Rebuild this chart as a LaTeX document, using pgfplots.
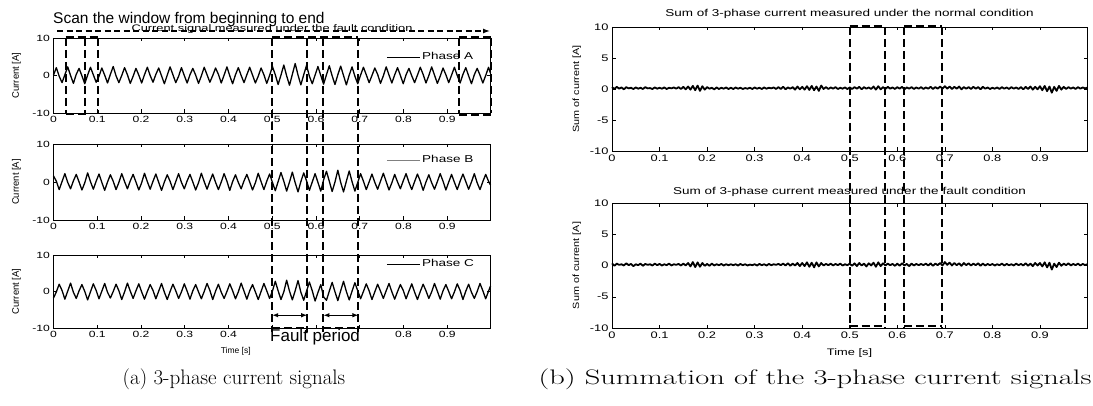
\documentclass[border=0pt]{standalone}
\usepackage{fontspec}
\newfontfamily\cf[FakeStretch=1.35]{Liberation Sans}
\newfontfamily\pf{Liberation Sans}
\usepackage{pgfplots}
\usepackage{pgfplotstable}
\pgfplotsset{compat=1.18}
\usetikzlibrary{arrows.meta}

% three phase currents, time in ms
\pgfplotstableread{
t A B C
0 0.1 1.6 -1.8
6.5 2.1 0.2 -0.1
13 -0.2 -2.0 2.0
19.5 -1.9 0.1 0.3
26 0.2 2.2 -2.1
32.5 2.3 -0.1 0.1
39 0.0 -1.8 2.3
45.5 -2.1 0.3 -0.2
52 0.3 2.0 -1.9
58.5 1.9 0.0 0.2
65 -0.1 -2.1 1.9
71.5 -2.2 -0.2 0.0
78 0.1 2.4 -2.3
84.5 2.2 0.1 -0.1
91 0.2 -1.9 2.1
97.5 -1.8 0.2 0.3
104 -0.2 2.1 -2.0
110.5 2.0 -0.1 0.1
117 0.1 -2.2 2.2
123.5 -2.0 0.0 -0.2
130 0.3 1.9 -1.8
136.5 2.4 0.2 0.0
143 -0.1 -2.0 2.0
149.5 -1.9 -0.1 0.2
156 0.0 2.2 -2.2
162.5 2.1 0.1 -0.1
169 0.2 -1.8 2.3
175.5 -2.1 0.3 0.1
182 -0.2 2.0 -1.9
188.5 1.9 0.0 0.2
195 0.1 -2.1 2.1
201.5 -2.0 -0.2 -0.1
208 0.2 2.3 -2.1
214.5 2.2 0.1 0.0
221 0.0 -1.9 1.9
227.5 -1.8 0.2 0.3
234 0.3 2.1 -2.0
240.5 2.0 -0.1 0.1
247 -0.1 -2.2 2.2
253.5 -2.2 0.0 -0.2
260 0.1 1.9 -2.2
266.5 2.3 0.2 0.0
273 0.2 -2.0 2.0
279.5 -1.9 0.1 0.2
286 -0.2 2.2 -1.9
292.5 2.1 -0.1 -0.1
299 0.0 -1.8 2.1
305.5 -2.0 0.3 0.1
312 0.2 2.0 -2.1
318.5 1.9 0.0 0.2
325 0.1 -2.1 1.9
331.5 -2.1 -0.2 -0.1
338 -0.1 2.3 -2.0
344.5 2.2 0.1 0.0
351 0.2 -1.9 2.2
357.5 -1.8 0.2 0.3
364 0.0 2.1 -2.2
370.5 2.0 -0.1 0.1
377 0.3 -2.0 2.0
383.5 -2.0 0.0 -0.2
390 0.1 2.2 -1.9
396.5 2.3 0.2 0.0
403 -0.1 -2.2 2.1
409.5 -2.2 0.1 0.2
416 0.2 1.9 -2.0
422.5 2.1 -0.1 -0.1
429 0.0 -1.8 2.3
435.5 -1.9 0.3 0.1
442 0.2 2.0 -2.1
448.5 2.2 0.0 0.2
455 0.1 -2.1 1.9
461.5 -2.0 -0.2 -0.1
468 -0.2 2.3 -2.2
474.5 2.0 0.1 0.0
481 0.2 -2.0 2.2
487.5 -2.1 0.2 0.2
494 0.0 2.1 -1.9
500.5 2.4 -0.1 0.1
507 0.2 -2.3 2.8
513.5 -2.4 0.1 0.2
520 0.1 2.5 -2.2
526.5 2.8 0.2 -0.1
533 -0.1 -2.4 3.1
539.5 -2.6 0.0 0.1
546 0.3 2.6 -2.3
552.5 3.2 -0.2 0.2
559 0.1 -2.6 3.0
565.5 -2.5 0.1 -0.2
572 0.2 2.4 -2.4
578.5 2.7 0.3 0.1
585 -0.2 -2.2 2.6
591.5 -2.2 0.0 0.2
598 0.1 2.2 -2.6
604.5 2.4 -0.1 -0.3
611 0.0 -2.4 1.9
617.5 -2.3 0.6 -1.5
624 0.2 2.8 -2.4
630.5 2.6 0.2 0.1
637 -0.1 -2.5 2.5
643.5 -2.4 0.0 -0.1
650 0.2 3.1 -2.5
656.5 2.5 -0.1 0.2
663 0.0 -2.6 2.8
669.5 -2.5 0.2 0.0
676 0.1 2.9 -2.3
682.5 2.3 0.1 0.1
689 -0.2 -2.4 2.4
695.5 -2.2 -0.1 0.2
702 0.1 2.2 -2.0
708.5 2.2 0.2 0.0
715 0.2 -2.0 2.1
721.5 -1.9 0.0 0.2
728 0.0 2.1 -2.2
734.5 2.0 -0.1 -0.1
741 0.3 -1.9 2.0
747.5 -2.1 0.2 0.1
754 -0.1 2.3 -1.9
760.5 2.3 0.1 0.2
767 0.1 -2.1 2.2
773.5 -2.0 -0.2 -0.1
780 0.2 2.0 -2.1
786.5 2.1 0.0 0.0
793 0.0 -1.8 1.9
799.5 -2.2 0.3 0.3
806 0.2 2.2 -2.0
812.5 1.9 -0.1 0.1
819 -0.1 -2.0 2.1
825.5 -1.9 0.1 -0.2
832 0.1 2.1 -2.2
838.5 2.2 0.2 0.0
845 0.3 -2.2 2.0
851.5 -2.0 0.0 0.2
858 0.0 1.9 -1.9
864.5 2.3 -0.2 -0.1
871 0.1 -1.9 2.2
877.5 -2.1 0.1 0.1
884 -0.2 2.2 -2.1
890.5 2.0 0.2 0.2
897 0.2 -2.1 1.9
903.5 -1.9 0.0 0.0
910 0.1 2.0 -2.0
916.5 2.2 -0.1 -0.1
923 0.0 -2.0 2.1
929.5 -2.0 0.2 0.3
936 0.3 2.1 -2.2
942.5 2.1 0.1 0.1
949 -0.1 -1.9 2.0
955.5 -2.2 0.0 -0.2
962 0.2 2.2 -1.9
968.5 1.9 -0.2 0.0
975 0.1 -2.0 2.2
981.5 -2.0 0.1 0.2
988 0.0 2.0 -2.0
994.5 2.2 0.2 0.1
999 0.6 -0.8 1.5
}\phasedata

% sum of the three currents, N = normal, F = fault
\pgfplotstableread{
t N F
0 0.3 0.35
5 0.0 -0.05
10 0.35 0.3
15 0.05 0.1
20 0.25 0.2
25 -0.05 0.0
30 0.3 0.35
35 0.1 0.05
40 0.2 0.25
45 0.0 -0.1
50 0.25 0.2
55 0.05 0.05
60 0.2 0.3
65 0.0 -0.05
70 0.3 0.25
75 0.1 0.1
80 0.15 0.2
85 0.0 0.0
90 0.25 0.3
95 0.05 0.05
100 0.2 0.25
105 0.05 0.0
110 0.25 0.2
115 0.0 0.05
120 0.2 0.3
125 0.1 0.0
130 0.25 0.2
135 0.05 0.1
140 0.3 0.25
145 0.0 0.0
150 0.35 0.3
155 -0.05 0.0
160 0.4 0.4
165 -0.1 -0.15
170 0.5 0.55
175 -0.2 -0.25
180 0.55 0.5
185 -0.3 -0.2
190 0.45 0.4
195 -0.1 -0.05
200 0.3 0.25
205 0.05 -0.05
210 0.2 0.3
215 -0.05 0.0
220 0.25 0.2
225 0.0 0.05
230 0.2 0.25
235 0.05 0.0
240 0.25 0.2
245 0.0 0.05
250 0.2 0.2
255 0.0 0.05
260 0.25 0.2
265 0.05 0.0
270 0.2 0.25
275 0.0 0.05
280 0.15 0.2
285 0.05 0.0
290 0.2 0.15
295 0.0 0.05
300 0.25 0.2
305 0.05 0.0
310 0.2 0.25
315 0.0 0.05
320 0.25 0.2
325 0.05 0.0
330 0.2 0.25
335 0.1 0.05
340 0.25 0.2
345 0.0 0.1
350 0.3 0.25
355 0.0 0.05
360 0.35 0.3
365 -0.05 0.0
370 0.25 0.35
375 0.05 -0.05
380 0.3 0.3
385 -0.1 0.0
390 0.4 0.4
395 -0.05 -0.1
400 0.35 0.4
405 -0.1 -0.1
410 0.45 0.5
415 -0.15 -0.2
420 0.5 0.45
425 -0.2 -0.3
430 0.4 0.5
435 -0.3 -0.15
440 0.55 0.4
445 0.0 0.0
450 0.3 0.25
455 0.0 0.05
460 0.25 0.3
465 0.05 0.0
470 0.3 0.25
475 0.0 0.05
480 0.2 0.3
485 0.05 0.0
490 0.25 0.2
495 0.0 0.05
500 0.25 0.3
505 0.0 -0.05
510 0.3 0.35
515 0.05 -0.1
520 0.35 0.4
525 -0.05 0.0
530 0.3 0.3
535 0.05 -0.15
540 0.25 0.35
545 0.0 0.0
550 0.4 0.45
555 -0.1 -0.2
560 0.45 0.5
565 -0.05 -0.1
570 0.3 0.35
575 0.0 0.0
580 0.35 0.3
585 0.05 0.05
590 0.25 0.25
595 0.0 -0.05
600 0.3 0.3
605 0.05 -0.05
610 0.35 0.35
615 -0.05 0.0
620 0.25 0.25
625 0.05 -0.1
630 0.3 0.3
635 0.0 0.0
640 0.25 0.25
645 0.05 0.05
650 0.3 0.25
655 0.0 0.05
660 0.25 0.3
665 0.05 0.0
670 0.35 0.35
675 0.0 -0.05
680 0.3 0.3
685 0.05 0.05
690 0.4 0.4
695 0.05 0.0
700 0.45 0.55
705 0.05 0.1
710 0.4 0.45
715 0.0 0.0
720 0.35 0.4
725 0.05 0.05
730 0.4 0.35
735 -0.05 -0.05
740 0.3 0.4
745 0.05 0.05
750 0.3 0.35
755 0.0 0.0
760 0.35 0.3
765 0.05 0.05
770 0.3 0.35
775 -0.05 -0.05
780 0.35 0.3
785 0.05 0.0
790 0.25 0.25
795 0.0 0.05
800 0.2 0.25
805 0.05 0.0
810 0.25 0.2
815 0.0 0.05
820 0.3 0.3
825 0.05 0.0
830 0.25 0.25
835 0.0 0.05
840 0.3 0.2
845 0.05 0.0
850 0.25 0.3
855 0.0 0.05
860 0.3 0.25
865 -0.05 0.0
870 0.35 0.35
875 0.0 -0.05
880 0.4 0.3
885 -0.1 -0.1
890 0.35 0.4
895 -0.05 0.0
900 0.45 0.4
905 -0.2 -0.15
910 0.5 0.5
915 -0.35 -0.3
920 0.4 0.45
925 -0.6 -0.65
930 0.35 0.3
935 -0.3 -0.25
940 0.5 0.45
945 -0.1 -0.05
950 0.35 0.3
955 0.0 0.05
960 0.3 0.35
965 0.05 0.0
970 0.25 0.25
975 0.0 0.05
980 0.3 0.3
985 0.05 0.0
990 0.25 0.25
995 0.1 0.05
999 0.2 0.2
}\sumdata

\tikzset{
  sig/.style={black, line width=1.3pt, line join=round},
  nsig/.style={black, line width=1.8pt, line join=round},
  fdash/.style={black, line width=2pt, dash pattern=on 8pt off 4pt},
}

\pgfplotsset{
  base/.style={
    scale only axis, clip=false,
    xmin=0, xmax=999,
    xtick={0,100,200,300,400,500,600,700,800,900},
    xticklabels={0,0.1,0.2,0.3,0.4,0.5,0.6,0.7,0.8,0.9},
    ymin=-10, ymax=10,
    axis line style={line width=0.8pt},
    every tick/.style={black, line width=0.5pt},
    major tick length=3.5pt,
    tick align=inside,
  },
  lft/.style={
    base, width=437pt,
    ytick={-10,0,10}, yticklabels={-10,0,10},
    tick label style={font=\cf\fontsize{9}{10}\selectfont},
    ylabel={Current [A]},
    ylabel style={font=\pf\fontsize{9.5}{10}\selectfont, at={(axis description cs:-0.085,0.5)}, anchor=center},
    legend style={draw=none, fill=none, anchor=west, font=\cf\fontsize{10}{11}\selectfont},
    legend image code/.code={\draw[black, line width=0.5pt] (0pt,0pt) -- (33pt,0pt);},
  },
  rgt/.style={
    base, width=475pt,
    ytick={-10,-5,0,5,10}, yticklabels={-10,-5,0,5,10},
    tick label style={font=\cf\fontsize{9.5}{10}\selectfont},
    ylabel={\scalebox{1.2}[1]{Sum of current [A]}},
    ylabel style={font=\pf\fontsize{9}{10}\selectfont, at={(axis description cs:-0.074,0.5)}, anchor=center},
    title style={font=\cf\fontsize{10}{11}\selectfont, at={(axis description cs:0.5,1)}, anchor=base},
  },
}

\begin{document}
\begin{tikzpicture}
\useasboundingbox (0,0) rectangle (1093pt,405pt);

% ---- (a) three phase currents ----
\begin{axis}[lft, at={(53.5pt,292pt)}, anchor=south west, height=75pt,
  title={Current signal measured under the fault condition},
  title style={font=\cf\fontsize{9.5}{10}\selectfont, at={(axis description cs:0.5,1)}, anchor=base, yshift=0.5pt},
  legend style={at={(axis description cs:0.755,0.747)}}]
\addplot[sig] table[x=t,y=A] {\phasedata};
\addlegendentry{Phase A}
\coordinate (fa) at (axis cs:500,10);
\coordinate (fb) at (axis cs:580,10);
\coordinate (fc) at (axis cs:617,10);
\coordinate (fd) at (axis cs:697,10);
\draw[fdash] (axis cs:500,10.3) -- (axis cs:697,10.3);
% scanning windows
\draw[fdash] (axis cs:28,10) -- (axis cs:28,-10);
\draw[fdash] (axis cs:73,10) -- (axis cs:73,-10);
\draw[fdash] (axis cs:101,10) -- (axis cs:101,-10);
\draw[fdash] (axis cs:28,10.3) -- (axis cs:101,10.3);
\draw[fdash] (axis cs:28,-10.4) -- (axis cs:80,-10.4);
\draw[fdash] (axis cs:928,10) -- (axis cs:928,-10);
\draw[fdash] (axis cs:999,10) -- (axis cs:999,-10);
\draw[fdash] (axis cs:928,10.3) -- (axis cs:999,10.3);
\draw[fdash] (axis cs:928,-10.6) -- (axis cs:999,-10.6);
\end{axis}

\begin{axis}[lft, at={(53.5pt,185pt)}, anchor=south west, height=76pt,
  legend style={at={(axis description cs:0.755,0.79)}},
  legend image code/.code={\draw[gray, line width=0.6pt] (0pt,0pt) -- (33pt,0pt);}]
\addplot[sig] table[x=t,y=B] {\phasedata};
\addlegendentry{Phase B}
\end{axis}

\begin{axis}[lft, at={(53.5pt,77pt)}, anchor=south west, height=73pt,
  xticklabels={0,0.1,0.2,0.3,0.4,,,,0.8,0.9},
  xlabel={Time [s]},
  xlabel style={font=\pf\fontsize{8.5}{9}\selectfont, at={(axis description cs:0.417,0)}, anchor=base, yshift=-25pt},
  legend style={at={(axis description cs:0.755,0.877)}}]
\addplot[sig] table[x=t,y=C] {\phasedata};
\addlegendentry{Phase C}
\coordinate (lbot) at (axis cs:0,-11);
\draw[fdash] (axis cs:500,-10) -- (axis cs:580,-10);
\draw[fdash] (axis cs:617,-10) -- (axis cs:697,-10);
\draw[line width=1pt, {Latex[length=6pt,width=4.5pt]}-{Latex[length=6pt,width=4.5pt]}] (axis cs:500,-6.5) -- (axis cs:580,-6.5);
\draw[line width=1pt, {Latex[length=6pt,width=4.5pt]}-{Latex[length=6pt,width=4.5pt]}] (axis cs:617,-6.5) -- (axis cs:697,-6.5);
\node[font=\pf\fontsize{17}{20}\selectfont, anchor=base, inner sep=0pt, yshift=-13pt] at (axis cs:598,-10) {Fault period};
\end{axis}

\draw[fdash] (fa) -- (fa |- lbot);
\draw[fdash] (fb) -- (fb |- lbot);
\draw[fdash] (fc) -- (fc |- lbot);
\draw[fdash] (fd) -- (fd |- lbot);

\draw[line width=1.3pt, dash pattern=on 6pt off 3.5pt, -{Latex[length=7pt,width=5pt]}] (57pt,374pt) -- (490pt,374pt);
\node[font=\pf\fontsize{15.5}{18}\selectfont, anchor=base west, inner sep=0pt] at (53pt,381.5pt) {Scan the window from beginning to end};

% ---- (b) sum of the three currents ----
\begin{axis}[rgt, at={(612pt,254pt)}, anchor=south west, height=124pt,
  title={Sum of 3-phase current measured under the normal condition},
  title style={yshift=4.5pt}]
\addplot[nsig] table[x=t,y=N] {\sumdata};
\coordinate (ra) at (axis cs:500,10);
\coordinate (rb) at (axis cs:575,10);
\coordinate (rc) at (axis cs:615,10);
\coordinate (rd) at (axis cs:695,10);
\draw[fdash] (axis cs:500,10.1) -- (axis cs:575,10.1);
\draw[fdash] (axis cs:615,10.1) -- (axis cs:695,10.1);
\end{axis}

\begin{axis}[rgt, at={(612pt,77pt)}, anchor=south west, height=125pt,
  title={Sum of 3-phase current measured under the fault condition},
  title style={yshift=2.5pt},
  xlabel={Time [s]},
  xlabel style={font=\cf\fontsize{9.5}{10}\selectfont, at={(axis description cs:0.5,0)}, anchor=base, yshift=-27.5pt}]
\addplot[nsig] table[x=t,y=F] {\sumdata};
\coordinate (rbot) at (axis cs:0,-10);
\draw[fdash] (axis cs:500,-9.6) -- (axis cs:575,-9.6);
\draw[fdash] (axis cs:615,-9.6) -- (axis cs:695,-9.6);
\end{axis}

\draw[fdash] (ra) -- (ra |- rbot);
\draw[fdash] (rb) -- (rb |- rbot);
\draw[fdash] (rc) -- (rc |- rbot);
\draw[fdash] (rd) -- (rd |- rbot);

% captions
\node[font=\rmfamily\fontsize{21}{24}\selectfont] at (234pt,26pt) {(a) 3-phase current signals};
\node[font=\rmfamily\fontsize{21}{24}\selectfont] at (815pt,26pt) {\scalebox{1.45}[1]{(b) Summation of the 3-phase current signals}};
\end{tikzpicture}
\end{document}
